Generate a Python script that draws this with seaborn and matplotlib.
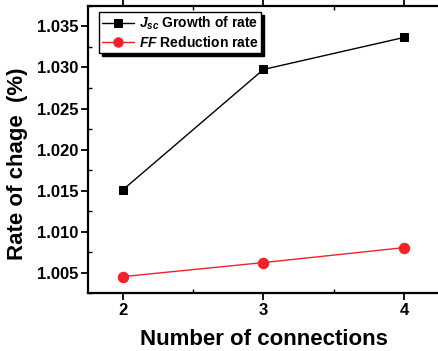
import matplotlib
matplotlib.use("Agg")
import matplotlib.pyplot as plt
import seaborn as sns
import pandas as pd
from matplotlib.ticker import MultipleLocator

connections = [2, 3, 4]
jsc_growth = [1.0151, 1.02976, 1.03366]
ff_reduction = [1.00451, 1.00622, 1.00804]
x_ticks = [2, 3, 4]
y_ticks = [1.005, 1.010, 1.015, 1.020, 1.025, 1.030, 1.035]

sns.set_theme(style="ticks")
plt.rcParams['font.family'] = ['Liberation Sans', 'DejaVu Sans']
plt.rcParams['text.color'] = 'black'
plt.rcParams['axes.labelcolor'] = 'black'
plt.rcParams['mathtext.fontset'] = 'custom'
plt.rcParams['mathtext.rm'] = 'Liberation Sans:bold'
plt.rcParams['mathtext.it'] = 'Liberation Sans:italic:bold'
plt.rcParams['mathtext.bf'] = 'Liberation Sans:bold'

fig = plt.figure(figsize=(4.38, 3.51), dpi=100)
ax = fig.add_axes([0.2007, 0.165, 0.8016, 0.818])

df_j = pd.DataFrame({"x": connections, "y": jsc_growth})
df_f = pd.DataFrame({"x": connections, "y": ff_reduction})

sns.lineplot(data=df_j, x="x", y="y", ax=ax, color="black", marker="s",
             markersize=6, linewidth=1.0, markeredgecolor="black",
             label=r"$J_{sc}$ Growth of rate")
sns.lineplot(data=df_f, x="x", y="y", ax=ax, color="#ee2229", marker="o",
             markersize=7.5, linewidth=1.0, markeredgecolor="#ee2229",
             label=r"$FF$ Reduction rate")

ax.set_xlim(1.75, 4.25)
ax.set_ylim(1.0025, 1.0375)
ax.set_xticks(x_ticks)
ax.set_yticks(y_ticks)
ax.set_yticklabels([f"{v:.3f}" for v in y_ticks])
ax.xaxis.set_minor_locator(MultipleLocator(0.5))
ax.yaxis.set_minor_locator(MultipleLocator(0.0025))

for sp in ax.spines.values():
    sp.set_linewidth(1.6)
    sp.set_color("black")

ax.tick_params(axis="both", which="major", direction="out", length=5, width=1.3,
               labelsize=12, colors="black", top=True)
ax.tick_params(axis="both", which="minor", direction="in", length=3, width=1.0,
               colors="black", top=True)
ax.tick_params(axis="x", which="major", pad=2)
ax.tick_params(axis="y", which="major", pad=2)
for lab in ax.get_xticklabels() + ax.get_yticklabels():
    lab.set_fontweight("bold")

ax.set_xlabel("Number of connections", fontsize=16, fontweight="bold", labelpad=8)
ax.set_ylabel("Rate of chage  (%)", fontsize=16, fontweight="bold")
ax.yaxis.set_label_coords(-0.172, 0.452)

leg = ax.legend(loc="upper left", bbox_to_anchor=(0.031, 0.979), frameon=True,
                fancybox=False, shadow={"color": "black", "alpha": 1.0},
                prop={"weight": "bold", "size": 10}, handlelength=2.3,
                borderpad=0.2, labelspacing=0.2, handletextpad=0.4,
                borderaxespad=0, markerscale=0.9)
leg.get_frame().set_edgecolor("black")
leg.get_frame().set_linewidth(1.0)

fig.savefig("out.png", dpi=100)
